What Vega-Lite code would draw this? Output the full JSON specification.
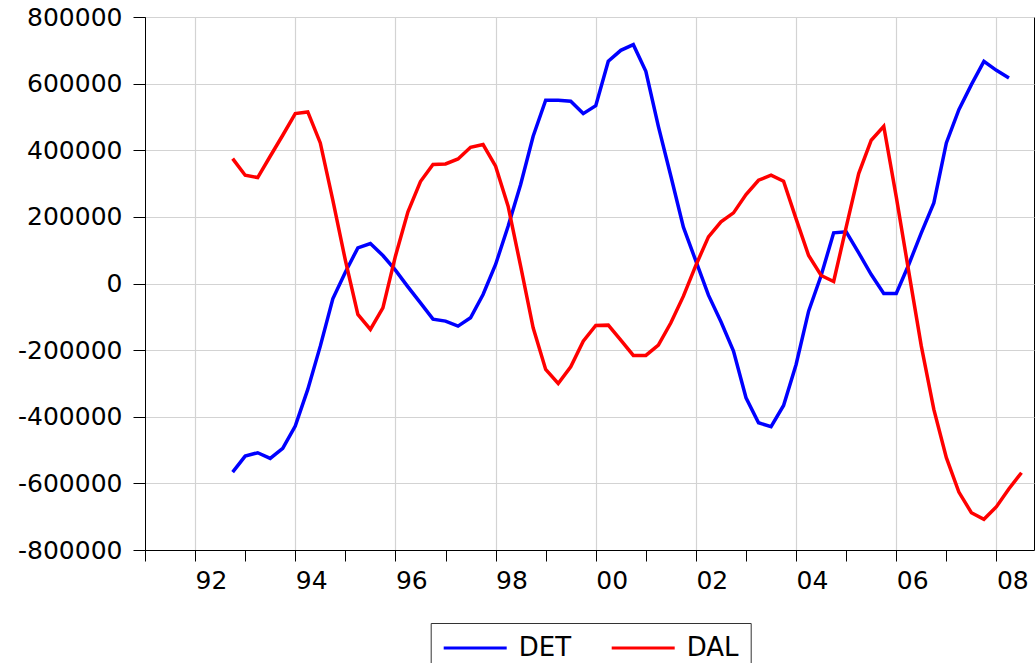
{
  "$schema": "https://vega.github.io/schema/vega-lite/v6.json",
  "width": 889,
  "height": 533,
  "autosize": {"type": "none"},
  "padding": {"left": 145, "top": 17, "right": 2, "bottom": 113},
  "background": "white",
  "config": {"view": {"stroke": "black", "strokeWidth": 1}, "font": "DejaVu Sans"},
  "data": {"values": [
    {"t":1992.75,"series":"DET","value":-566000},{"t":1993.0,"series":"DET","value":-518000},{"t":1993.25,"series":"DET","value":-508000},{"t":1993.5,"series":"DET","value":-525000},
    {"t":1993.75,"series":"DET","value":-495000},{"t":1994.0,"series":"DET","value":-428000},{"t":1994.25,"series":"DET","value":-318000},{"t":1994.5,"series":"DET","value":-188000},
    {"t":1994.75,"series":"DET","value":-46000},{"t":1995.0,"series":"DET","value":34000},{"t":1995.25,"series":"DET","value":107000},{"t":1995.5,"series":"DET","value":120000},
    {"t":1995.75,"series":"DET","value":84000},{"t":1996.0,"series":"DET","value":40000},{"t":1996.25,"series":"DET","value":-10000},{"t":1996.5,"series":"DET","value":-58000},
    {"t":1996.75,"series":"DET","value":-107000},{"t":1997.0,"series":"DET","value":-113000},{"t":1997.25,"series":"DET","value":-128000},{"t":1997.5,"series":"DET","value":-103000},
    {"t":1997.75,"series":"DET","value":-33000},{"t":1998.0,"series":"DET","value":57000},{"t":1998.25,"series":"DET","value":172000},{"t":1998.5,"series":"DET","value":297000},
    {"t":1998.75,"series":"DET","value":442000},{"t":1999.0,"series":"DET","value":550000},{"t":1999.25,"series":"DET","value":550000},{"t":1999.5,"series":"DET","value":547000},
    {"t":1999.75,"series":"DET","value":510000},{"t":2000.0,"series":"DET","value":534000},{"t":2000.25,"series":"DET","value":667000},{"t":2000.5,"series":"DET","value":700000},
    {"t":2000.75,"series":"DET","value":717000},{"t":2001.0,"series":"DET","value":637000},{"t":2001.25,"series":"DET","value":472000},{"t":2001.5,"series":"DET","value":322000},
    {"t":2001.75,"series":"DET","value":169000},{"t":2002.0,"series":"DET","value":67000},{"t":2002.25,"series":"DET","value":-35000},{"t":2002.5,"series":"DET","value":-115000},
    {"t":2002.75,"series":"DET","value":-203000},{"t":2003.0,"series":"DET","value":-343000},{"t":2003.25,"series":"DET","value":-418000},{"t":2003.5,"series":"DET","value":-430000},
    {"t":2003.75,"series":"DET","value":-366000},{"t":2004.0,"series":"DET","value":-243000},{"t":2004.25,"series":"DET","value":-83000},{"t":2004.5,"series":"DET","value":24000},
    {"t":2004.75,"series":"DET","value":152000},{"t":2005.0,"series":"DET","value":155000},{"t":2005.25,"series":"DET","value":92000},{"t":2005.5,"series":"DET","value":27000},
    {"t":2005.75,"series":"DET","value":-30000},{"t":2006.0,"series":"DET","value":-30000},{"t":2006.25,"series":"DET","value":57000},{"t":2006.5,"series":"DET","value":152000},
    {"t":2006.75,"series":"DET","value":242000},{"t":2007.0,"series":"DET","value":422000},{"t":2007.25,"series":"DET","value":522000},{"t":2007.5,"series":"DET","value":597000},
    {"t":2007.75,"series":"DET","value":667000},{"t":2008.0,"series":"DET","value":640000},{"t":2008.25,"series":"DET","value":617000},
    {"t":1992.75,"series":"DAL","value":375000},{"t":1993.0,"series":"DAL","value":325000},{"t":1993.25,"series":"DAL","value":318000},{"t":1993.5,"series":"DAL","value":382000},
    {"t":1993.75,"series":"DAL","value":445000},{"t":1994.0,"series":"DAL","value":510000},{"t":1994.25,"series":"DAL","value":515000},{"t":1994.5,"series":"DAL","value":422000},
    {"t":1994.75,"series":"DAL","value":250000},{"t":1995.0,"series":"DAL","value":70000},{"t":1995.25,"series":"DAL","value":-93000},{"t":1995.5,"series":"DAL","value":-138000},
    {"t":1995.75,"series":"DAL","value":-73000},{"t":1996.0,"series":"DAL","value":82000},{"t":1996.25,"series":"DAL","value":215000},{"t":1996.5,"series":"DAL","value":306000},
    {"t":1996.75,"series":"DAL","value":357000},{"t":1997.0,"series":"DAL","value":359000},{"t":1997.25,"series":"DAL","value":374000},{"t":1997.5,"series":"DAL","value":409000},
    {"t":1997.75,"series":"DAL","value":417000},{"t":1998.0,"series":"DAL","value":352000},{"t":1998.25,"series":"DAL","value":232000},{"t":1998.5,"series":"DAL","value":52000},
    {"t":1998.75,"series":"DAL","value":-133000},{"t":1999.0,"series":"DAL","value":-258000},{"t":1999.25,"series":"DAL","value":-300000},{"t":1999.5,"series":"DAL","value":-250000},
    {"t":1999.75,"series":"DAL","value":-173000},{"t":2000.0,"series":"DAL","value":-126000},{"t":2000.25,"series":"DAL","value":-125000},{"t":2000.5,"series":"DAL","value":-170000},
    {"t":2000.75,"series":"DAL","value":-216000},{"t":2001.0,"series":"DAL","value":-216000},{"t":2001.25,"series":"DAL","value":-185000},{"t":2001.5,"series":"DAL","value":-118000},
    {"t":2001.75,"series":"DAL","value":-38000},{"t":2002.0,"series":"DAL","value":55000},{"t":2002.25,"series":"DAL","value":140000},{"t":2002.5,"series":"DAL","value":185000},
    {"t":2002.75,"series":"DAL","value":212000},{"t":2003.0,"series":"DAL","value":267000},{"t":2003.25,"series":"DAL","value":310000},{"t":2003.5,"series":"DAL","value":325000},
    {"t":2003.75,"series":"DAL","value":307000},{"t":2004.0,"series":"DAL","value":194000},{"t":2004.25,"series":"DAL","value":84000},{"t":2004.5,"series":"DAL","value":24000},
    {"t":2004.75,"series":"DAL","value":6000},{"t":2005.0,"series":"DAL","value":169000},{"t":2005.25,"series":"DAL","value":330000},{"t":2005.5,"series":"DAL","value":430000},
    {"t":2005.75,"series":"DAL","value":472000},{"t":2006.0,"series":"DAL","value":260000},{"t":2006.25,"series":"DAL","value":35000},{"t":2006.5,"series":"DAL","value":-188000},
    {"t":2006.75,"series":"DAL","value":-378000},{"t":2007.0,"series":"DAL","value":-523000},{"t":2007.25,"series":"DAL","value":-626000},{"t":2007.5,"series":"DAL","value":-688000},
    {"t":2007.75,"series":"DAL","value":-708000},{"t":2008.0,"series":"DAL","value":-670000},{"t":2008.25,"series":"DAL","value":-616000},{"t":2008.5,"series":"DAL","value":-568000}
  ]},
  "mark": {"type": "line", "strokeWidth": 3.5, "clip": true},
  "encoding": {
    "x": {
      "field": "t", "type": "quantitative",
      "scale": {"domain": [1991, 2008.75], "nice": false, "zero": false},
      "axis": {
        "title": null,
        "values": [1991,1992,1993,1994,1995,1996,1997,1998,1999,2000,2001,2002,2003,2004,2005,2006,2007,2008],
        "grid": true, "gridColor": "#d3d3d3", "gridWidth": 1.2,
        "gridOpacity": {"expr": "datum.value % 2 == 0 ? 1 : 0"},
        "labelExpr": "datum.value % 2 == 0 ? format(datum.value % 100, '02d') : ''",
        "labelAlign": "left", "labelDx": 2, "labelFontSize": 25, "labelColor": "black",
        "labelFlush": false, "labelOverlap": false, "labelPadding": 7,
        "tickColor": "black", "tickSize": 11, "domainColor": "black"
      }
    },
    "y": {
      "field": "value", "type": "quantitative",
      "scale": {"domain": [-800000, 800000], "nice": false},
      "axis": {
        "title": null,
        "values": [-800000,-600000,-400000,-200000,0,200000,400000,600000,800000],
        "labelExpr": "'' + datum.value",
        "grid": true, "gridColor": "#d3d3d3", "gridWidth": 1.2,
        "labelFontSize": 25, "labelColor": "black", "labelFlush": false, "labelOverlap": false,
        "labelPadding": 11, "tickColor": "black", "tickSize": 12, "domainColor": "black"
      }
    },
    "color": {
      "field": "series", "type": "nominal",
      "scale": {"domain": ["DET", "DAL"], "range": ["#0000ff", "#ff0000"]},
      "legend": {
        "title": null, "orient": "none", "legendX": 285.7, "legendY": 606,
        "direction": "horizontal",
        "symbolType": "M0,0H6", "symbolSize": 441, "symbolStrokeWidth": 3,
        "symbolOffset": -12, "labelOffset": 62, "columnPadding": 34,
        "labelFontSize": 26, "labelColor": "black",
        "strokeColor": "#333333", "fillColor": "white", "padding": 12
      }
    }
  }
}
